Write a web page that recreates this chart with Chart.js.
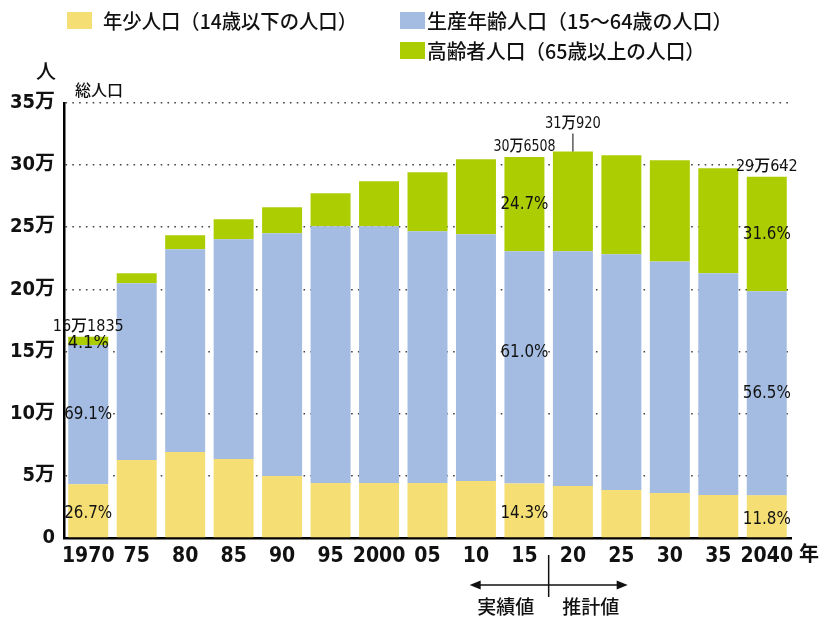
<!DOCTYPE html>
<html><head><meta charset="utf-8">
<script src="https://cdn.jsdelivr.net/npm/chart.js@4.4.1/dist/chart.umd.min.js"></script>
<style>html,body{margin:0;padding:0;background:#fff;overflow:hidden;} #wrap{width:830px;height:619px;position:relative;}</style>
</head><body><div id="wrap"><canvas id="c"></canvas></div>
<script>
const categories = ["1970","75","80","85","90","95","2000","05","10","15","20","25","30","35","2040"];
const youngPop   = [43210,62700,69130,63500,49840,44210,44210,44210,45820,43831,41800,38585,36170,34570,34296];
const workingPop = [111990,142280,163185,176850,195340,206590,206590,202570,198550,186970,188910,189715,186230,178450,164213];
const elderlyPop = [6635,8040,11255,16080,20900,26530,36180,47430,60290,75707,80210,79570,81460,84410,92133];
const seriesNames = ["年少人口（14歳以下の人口）","生産年齢人口（15～64歳の人口）","高齢者人口（65歳以上の人口）"];
const seriesColors = ["#F5DF75","#A4BCE2","#ADCD03"];
const yTickValues = [0,50000,100000,150000,200000,250000,300000,350000];
const totalLabelIndex = [0,9,10,14];
const totalLabelText = ["16万1835","30万6508","31万920","29万642"];
const pctIndex = [0,9,14];
const youngPct = ["26.7%","14.3%","11.8%"];
const workingPct = ["69.1%","61.0%","56.5%"];
const elderlyPct = ["4.1%","24.7%","31.6%"];

const NUM = '"Liberation Sans Narrow","DejaVu Sans Condensed","Noto Sans CJK JP",sans-serif';
const JP = '"Noto Sans CJK JP",sans-serif';

function fmtTick(v){ return v===0 ? "0" : (v/10000)+"万"; }

const overlay = {
  id:'overlay',
  afterDraw(chart){
    const ctx = chart.ctx;
    const xs = chart.scales.x;
    ctx.save();
    // legend
    const leg = [[67,12,103,21],[400,12,427,21],[400,42,427,51]];
    const legW = [254,310,278];
    ctx.textBaseline='middle'; ctx.textAlign='left';
    for(let i=0;i<3;i++){
      ctx.fillStyle=seriesColors[i];
      ctx.fillRect(leg[i][0],leg[i][1],25,17);
      ctx.fillStyle='#111';
      ctx.font='500 20px '+JP;
      ctx.fillText(seriesNames[i],leg[i][2],leg[i][3],legW[i]);
    }
    // unit labels
    ctx.fillStyle='#111';
    ctx.textAlign='center';
    ctx.font='500 20px '+JP; ctx.fillText('人',46,71);
    ctx.font='500 16px '+JP; ctx.fillText('総人口',99,90);
    ctx.font='bold 20px '+JP; ctx.fillText('年',809,553);
    // totals
    const m0 = chart.getDatasetMeta(0), m1 = chart.getDatasetMeta(1), m2 = chart.getDatasetMeta(2);
    ctx.font='500 16px '+NUM;
    ctx.textBaseline='alphabetic';
    totalLabelIndex.forEach((idx,k)=>{
      const bar = m2.data[idx];
      const x = bar.x;
      if(idx===10){
        ctx.fillText(totalLabelText[k], x, bar.y-24, 56);
        ctx.strokeStyle='#333'; ctx.lineWidth=1.2;
        ctx.beginPath(); ctx.moveTo(x, bar.y-18); ctx.lineTo(x, bar.y); ctx.stroke();
      } else {
        ctx.fillText(totalLabelText[k], x, bar.y-6, idx===0 ? 76 : 62);
      }
    });
    // percentages
    ctx.font='500 18px '+NUM;
    ctx.textBaseline='middle';
    pctIndex.forEach((idx,k)=>{
      const b0=m0.data[idx], b1=m1.data[idx], b2=m2.data[idx];
      const x=b0.x;
      ctx.fillText(youngPct[k], x, (b0.y+b0.base)/2+3, 48);
      let wy=(b1.y+b1.base)/2; if(idx===9) wy-=15;
      ctx.fillText(workingPct[k], x, wy, 48);
      let ey=(b2.y+b2.base)/2; if(idx===0) ey+=2;
      ctx.fillText(elderlyPct[k], x, ey, 48);
    });
    // actual / projection marker
    const bx = (xs.getPixelForValue(9)+xs.getPixelForValue(10))/2;
    const ay = 585;
    ctx.strokeStyle='#111'; ctx.fillStyle='#111'; ctx.lineWidth=1.5;
    ctx.beginPath(); ctx.moveTo(bx,555); ctx.lineTo(bx,597); ctx.stroke();
    const lx = bx-79, rx = bx+79;
    ctx.beginPath(); ctx.moveTo(lx+8,ay); ctx.lineTo(rx-8,ay); ctx.stroke();
    ctx.beginPath(); ctx.moveTo(lx,ay); ctx.lineTo(lx+11,ay-4.5); ctx.lineTo(lx+11,ay+4.5); ctx.closePath(); ctx.fill();
    ctx.beginPath(); ctx.moveTo(rx,ay); ctx.lineTo(rx-11,ay-4.5); ctx.lineTo(rx-11,ay+4.5); ctx.closePath(); ctx.fill();
    ctx.font='500 19px '+JP; ctx.textBaseline='middle';
    ctx.fillText('実績値', bx-43, 607);
    ctx.fillText('推計値', bx+42, 607);
    ctx.restore();
  }
};

new Chart(document.getElementById('c'), {
  type:'bar',
  data:{
    labels:categories,
    datasets:[
      {label:seriesNames[0], data:youngPop, backgroundColor:seriesColors[0]},
      {label:seriesNames[1], data:workingPop, backgroundColor:seriesColors[1]},
      {label:seriesNames[2], data:elderlyPop, backgroundColor:seriesColors[2]}
    ]
  },
  options:{
    responsive:true, maintainAspectRatio:false, animation:false,
    devicePixelRatio:1,
    layout:{padding:{left:0,right:39,top:103,bottom:0}},
    datasets:{bar:{categoryPercentage:1, barPercentage:0.825, borderWidth:0}},
    plugins:{legend:{display:false}, tooltip:{enabled:false}},
    scales:{
      x:{
        stacked:true,
        grid:{display:false, drawTicks:false},
        border:{display:true, color:'#000', width:2.5},
        ticks:{color:'#111', font:{family:NUM, size:21, weight:'bold'}, padding:6, maxRotation:0, autoSkip:false},
        afterFit(s){ s.height = 619-538; }
      },
      y:{
        stacked:true, min:0, max:350000,
        afterBuildTicks(s){ s.ticks = yTickValues.map(v=>({value:v})); },
        grid:{color:'#444', lineWidth:1.6, drawTicks:false},
        border:{display:true, color:'#000', width:2.5, dash:[1.6,5.2]},
        ticks:{color:'#111', font:{family:NUM, size:20, weight:'bold'}, padding:9, callback:(v)=>fmtTick(v)},
        afterFit(s){ s.width = 64; }
      }
    }
  },
  plugins:[overlay]
});
</script></body></html>
